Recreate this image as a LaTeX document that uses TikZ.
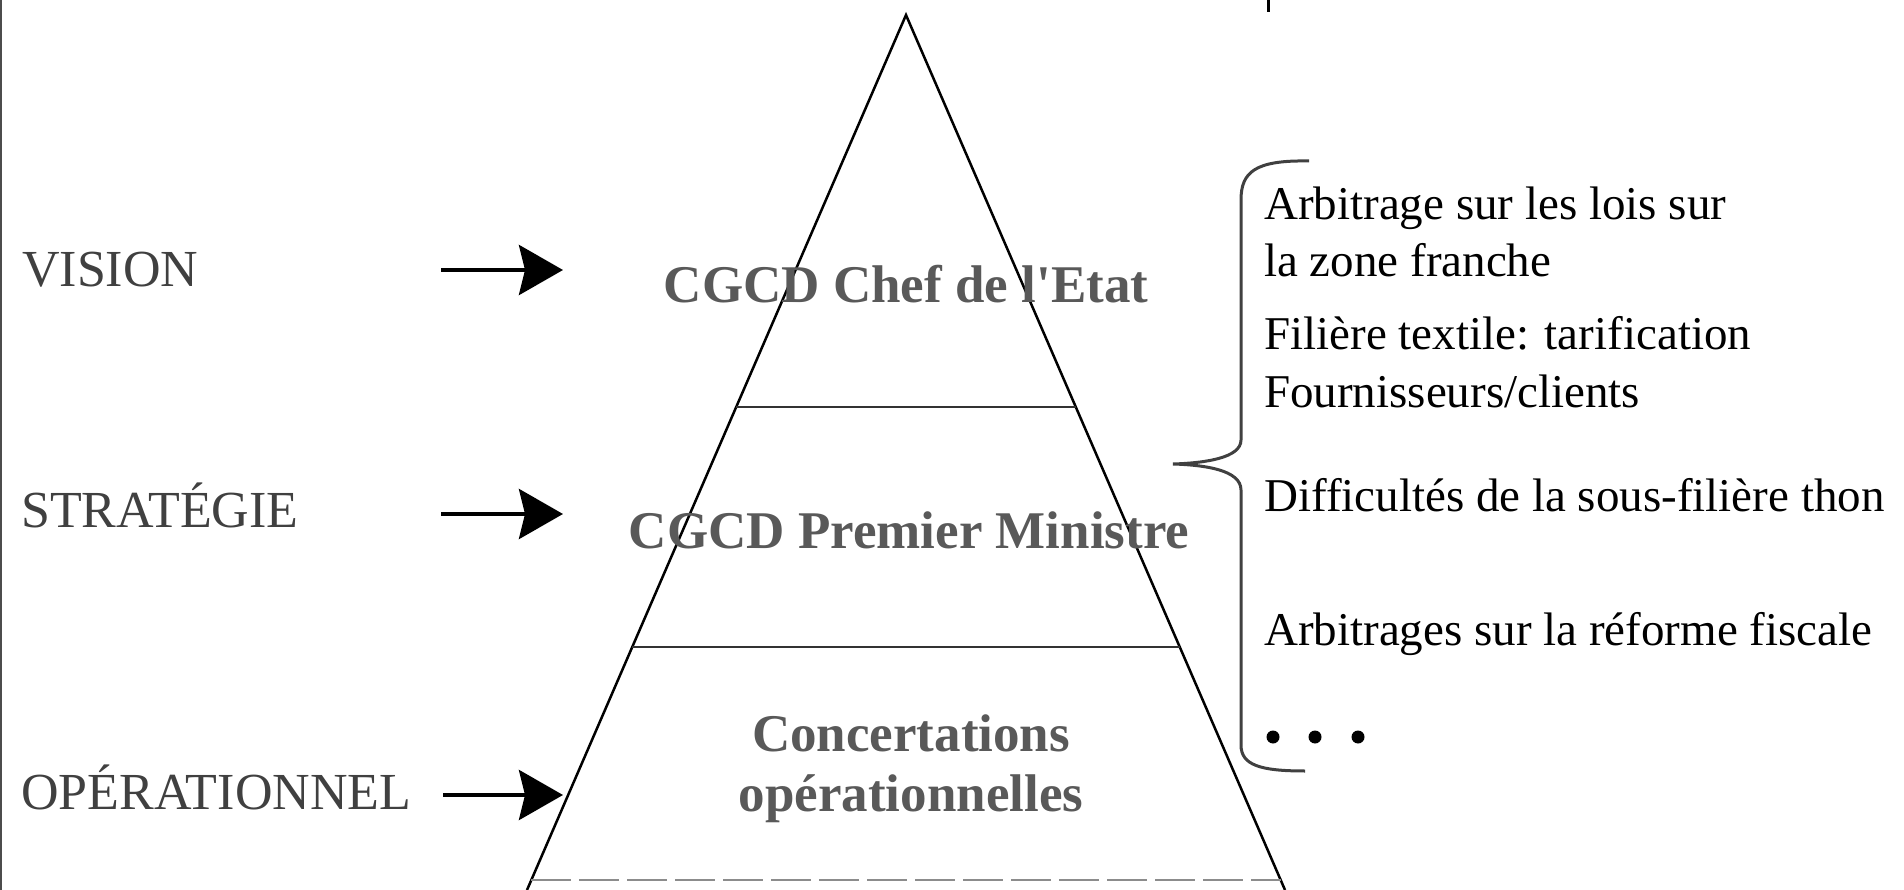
\documentclass[tikz,border=0pt]{standalone}
\usepackage{fontspec}
\setmainfont{Liberation Serif}
\newfontfamily\straightserif{Liberation Serif}[Ligatures=TeXOff]
\usetikzlibrary{arrows.meta,calc}
\begin{document}
\begin{tikzpicture}[x=1pt,y=-1pt,
  side/.style={line width=2.5pt, black},
  divider/.style={line width=2pt, black!80},
  levelarrow/.style={line width=4pt, -{Stealth[length=44pt,width=50pt,inset=6pt]}},
  level/.style={anchor=base west, text=black!75, font=\fontsize{52}{60}\selectfont, inner sep=0pt},
  tier/.style={anchor=base, text=black!65, font=\fontsize{53}{60}\selectfont\bfseries, inner sep=0pt},
  item/.style={anchor=base west, font=\fontsize{47}{56}\selectfont, inner sep=0pt},
  bullet/.style={circle, fill=black, inner sep=0pt, minimum size=13pt},
  bracestyle/.style={line width=3pt, black!75},
]
\useasboundingbox (0,0) rectangle (1904,890);
\clip (0,0) rectangle (1904,890);

% border and top fragment
\draw[line width=2pt, black!70] (1,0) -- (1,890);
\draw[line width=3pt] (1268,0) -- (1268,12);

% pyramid
\coordinate (apex) at (906,15);
\coordinate (bl) at (527,890);
\coordinate (br) at (1285,890);
\draw[side] (bl) -- (apex) -- (br);
\draw[divider] ($(apex)!0.448!(bl)$) -- ($(apex)!0.448!(br)$);
\draw[divider] ($(apex)!0.7223!(bl)$) -- ($(apex)!0.7223!(br)$);
\draw[line width=2pt, black!45, dash pattern=on 40pt off 8pt] ($(apex)!0.9886!(bl)$) -- ($(apex)!0.9886!(br)$);

% tier texts
\node[tier] (t1) at (906,303) {{\straightserif\bfseries CGCD Chef de l'Etat}};
\node[tier] (t2) at (909,548) {CGCD Premier Ministre};
\node[tier] (t3a) at (911,751) {Concertations};
\node[tier] (t3b) at (911,811) {opérationnelles};

% levels
\node[level] (vision) at (22,287) {VISION};
\node[level] (strat) at (21,527) {STRATÉGIE};
\node[level] (oper) at (21,809) {OPÉRATIONNEL};

\coordinate (a1s) at (441,270); \coordinate (a1e) at (563,270);
\coordinate (a2s) at (441,514); \coordinate (a2e) at (563,514);
\coordinate (a3s) at (443,795); \coordinate (a3e) at (563,795);
\draw[levelarrow] (a1s) -- (a1e);
\draw[levelarrow] (a2s) -- (a2e);
\draw[levelarrow] (a3s) -- (a3e);

% brace
\coordinate (btop) at (1309,161);
\coordinate (bmid) at (1173,464);
\coordinate (bbot) at (1305,771);
\draw[bracestyle] (btop) .. controls (1255,160) and (1241,172) .. (1241,200)
  -- (1241,440) .. controls (1241,458) and (1205,463) .. (bmid)
  .. controls (1205,465) and (1241,470) .. (1241,490)
  -- (1241,745) .. controls (1241,765) and (1260,771) .. (bbot);

% items
\node[item] (i1) at (1264,220) {Arbitrage sur les lois sur};
\node[item] (i2) at (1264,277) {la zone franche};
\node[item] (i3) at (1264,350) {Filière textile: tarification};
\node[item] (i4) at (1264,408) {Fournisseurs/clients};
\node[item] (i5) at (1264,511) {Difficultés de la sous-filière thon};
\node[item] (i6) at (1264,645) {Arbitrages sur la réforme fiscale};
\node[bullet] (d1) at (1273,737) {};
\node[bullet] (d2) at (1315,737) {};
\node[bullet] (d3) at (1358,737) {};
\end{tikzpicture}
\end{document}
